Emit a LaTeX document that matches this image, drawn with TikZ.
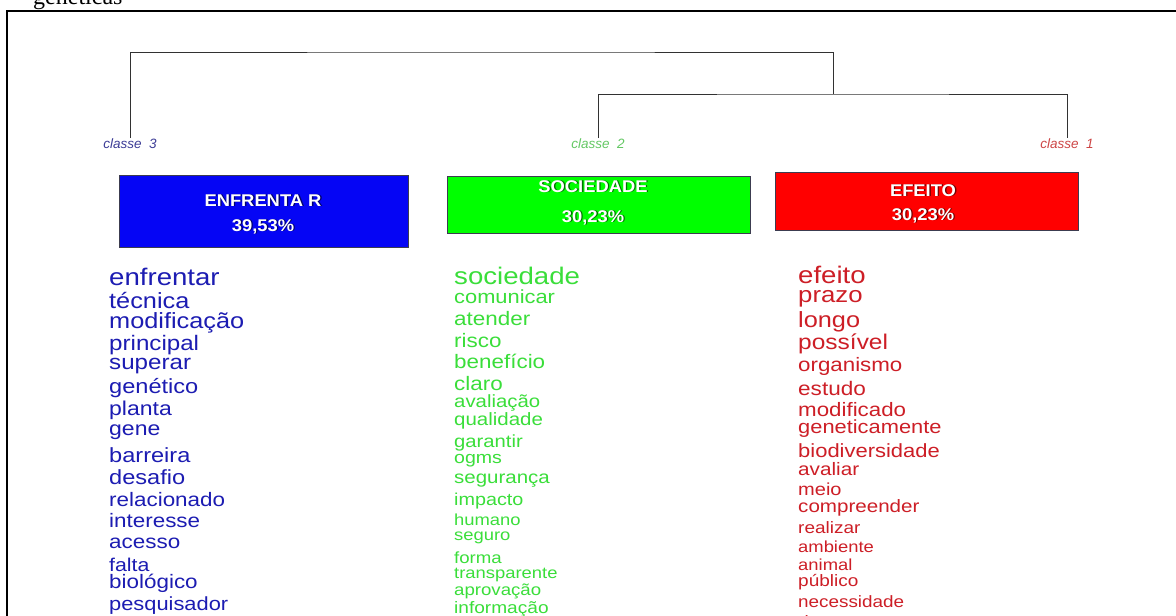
\documentclass[tikz,border=0pt]{standalone}
\usepackage{fontspec}
\setmainfont{Liberation Sans}
\newfontfamily\wordfont[FakeStretch=1.15]{Liberation Sans}
\newfontfamily\headfont[FakeStretch=1.08]{Liberation Sans}
\newfontfamily\capfont{Liberation Serif}
\newcommand\wsz[1]{\fontsize{#1}{#1}\selectfont}

\definecolor{wblue}{RGB}{28,28,178}
\definecolor{wgreen}{RGB}{58,222,58}
\definecolor{wred}{RGB}{205,30,38}
\definecolor{lblue}{RGB}{60,60,150}
\definecolor{lgreen}{RGB}{100,200,100}
\definecolor{lred}{RGB}{205,70,70}
\definecolor{boxblue}{RGB}{5,5,245}
\definecolor{boxgreen}{RGB}{0,255,0}
\definecolor{boxred}{RGB}{255,0,0}
\definecolor{boxedge}{RGB}{60,60,80}
\definecolor{dendro}{RGB}{50,50,50}

\begin{document}
\begin{tikzpicture}[x=1pt,y=-1pt,
  dend/.style={draw=dendro,line width=0.9pt},
  lab/.style={anchor=north,inner sep=0.5pt,font=\itshape\wsz{13.5}},
  clbox/.style={draw=boxedge,line width=0.8pt,inner sep=0pt},
  headtxt/.style={anchor=base,inner sep=0pt,text=white,font=\headfont\bfseries\wsz{17}},
  headshd/.style={anchor=base,inner sep=0pt,text=black,opacity=0.55,font=\headfont\bfseries\wsz{17}},
  wb/.style={anchor=base west,inner sep=0pt,text=wblue,font=\wordfont},
  wg/.style={anchor=base west,inner sep=0pt,text=wgreen,font=\wordfont},
  wr/.style={anchor=base west,inner sep=0pt,text=wred,font=\wordfont}]
\useasboundingbox (0,0) rectangle (1176,616);
\clip (0,0) rectangle (1176,616);
\fill[white] (0,0) rectangle (1176,616);

% caption fragment above the frame
\node[anchor=base west,inner sep=0pt,font=\capfont\wsz{24}] (cap) at (33,4) {genéticas};

% outer frame
\draw[line width=2.8pt] (7,11) rectangle (1220,700);

% class labels
\node[lab,text=lblue]  (c3) at (130,138) {classe\ \ 3};
\node[lab,text=lgreen] (c2) at (598,138) {classe\ \ 2};
\node[lab,text=lred]   (c1) at (1067,138) {classe\ \ 1};

% dendrogram
\coordinate (n21) at (833,94);
\coordinate (root) at (480,52);
\draw[dend] (c2.north) |- (n21) -| (c1.north);
\draw[dend] (c3.north) |- (root) -| (n21);

% class boxes
\node[clbox,fill=boxblue,minimum width=289pt,minimum height=72pt] (k3) at (263.5,211) {};
\node[clbox,fill=boxgreen,minimum width=303pt,minimum height=57pt] (k2) at (598.5,204.5) {};
\node[clbox,fill=boxred,minimum width=303pt,minimum height=58pt] (k1) at (926.5,201) {};

\node[headshd] (k3as) at (264.4,206.9) {ENFRENTA R};
\node[headtxt] (k3a) at (263,206) {ENFRENTA R};
\node[headshd] (k3bs) at (264.4,231.9) {39,53\%};
\node[headtxt] (k3b) at (263,231) {39,53\%};

\node[headshd] (k2as) at (594.4,192.9) {SOCIEDADE};
\node[headtxt] (k2a) at (593,192) {SOCIEDADE};
\node[headshd] (k2bs) at (594.4,222.9) {30,23\%};
\node[headtxt] (k2b) at (593,222) {30,23\%};

\node[headshd] (k1as) at (924.4,196.9) {EFEITO};
\node[headtxt] (k1a) at (923,196) {EFEITO};
\node[headshd] (k1bs) at (924.4,220.9) {30,23\%};
\node[headtxt] (k1b) at (923,220) {30,23\%};

% class 3 words
\node[wb] (b1)  at (109,285) {\wsz{24}enfrentar};
\node[wb] (b2)  at (109,308) {\wsz{22}técnica};
\node[wb] (b3)  at (109,328) {\wsz{22}modificação};
\node[wb] (b4)  at (109,350) {\wsz{21}principal};
\node[wb] (b5)  at (109,369) {\wsz{21}superar};
\node[wb] (b6)  at (109,393) {\wsz{20.5}genético};
\node[wb] (b7)  at (109,415) {\wsz{20}planta};
\node[wb] (b8)  at (109,435) {\wsz{20}gene};
\node[wb] (b9)  at (109,462) {\wsz{20.5}barreira};
\node[wb] (b10) at (109,484) {\wsz{20.5}desafio};
\node[wb] (b11) at (109,506) {\wsz{19.5}relacionado};
\node[wb] (b12) at (109,527) {\wsz{19.5}interesse};
\node[wb] (b13) at (109,548) {\wsz{19.5}acesso};
\node[wb] (b14) at (109,571) {\wsz{18.5}falta};
\node[wb] (b15) at (109,588) {\wsz{19.5}biológico};
\node[wb] (b16) at (109,610) {\wsz{19}pesquisador};

% class 2 words
\node[wg] (g1)  at (454,284) {\wsz{24}sociedade};
\node[wg] (g2)  at (454,303) {\wsz{19}comunicar};
\node[wg] (g3)  at (454,325) {\wsz{19.5}atender};
\node[wg] (g4)  at (454,347) {\wsz{19.5}risco};
\node[wg] (g5)  at (454,368) {\wsz{19.5}benefício};
\node[wg] (g6)  at (454,390) {\wsz{19.5}claro};
\node[wg] (g7)  at (454,407) {\wsz{17.7}avaliação};
\node[wg] (g8)  at (454,425) {\wsz{17.8}qualidade};
\node[wg] (g9)  at (454,447) {\wsz{17.6}garantir};
\node[wg] (g10) at (454,463) {\wsz{17}ogms};
\node[wg] (g11) at (454,483) {\wsz{17.8}segurança};
\node[wg] (g12) at (454,505) {\wsz{17.2}impacto};
\node[wg] (g13) at (454,525) {\wsz{16}humano};
\node[wg] (g14) at (454,540) {\wsz{16}seguro};
\node[wg] (g15) at (454,563) {\wsz{16.2}forma};
\node[wg] (g16) at (454,578) {\wsz{16}transparente};
\node[wg] (g17) at (454,595) {\wsz{16.2}aprovação};
\node[wg] (g18) at (454,613) {\wsz{16.6}informação};

% class 1 words
\node[wr] (r1)  at (798,283) {\wsz{24}efeito};
\node[wr] (r2)  at (798,302) {\wsz{22.4}prazo};
\node[wr] (r3)  at (798,327) {\wsz{22}longo};
\node[wr] (r4)  at (798,349) {\wsz{21.3}possível};
\node[wr] (r5)  at (798,371) {\wsz{19.4}organismo};
\node[wr] (r6)  at (798,395) {\wsz{19.6}estudo};
\node[wr] (r7)  at (798,416) {\wsz{19.4}modificado};
\node[wr] (r8)  at (798,433) {\wsz{19}geneticamente};
\node[wr] (r9)  at (798,457) {\wsz{19.1}biodiversidade};
\node[wr] (r10) at (798,475) {\wsz{18}avaliar};
\node[wr] (r11) at (798,495) {\wsz{17.4}meio};
\node[wr] (r12) at (798,512) {\wsz{17.9}compreender};
\node[wr] (r13) at (798,533) {\wsz{16.5}realizar};
\node[wr] (r14) at (798,552) {\wsz{16}ambiente};
\node[wr] (r15) at (798,570) {\wsz{16}animal};
\node[wr] (r16) at (798,586) {\wsz{16.5}público};
\node[wr] (r17) at (798,607) {\wsz{16.4}necessidade};
\node[wr] (r18) at (798,627) {\wsz{16.5}rigoroso};
\end{tikzpicture}
\end{document}
